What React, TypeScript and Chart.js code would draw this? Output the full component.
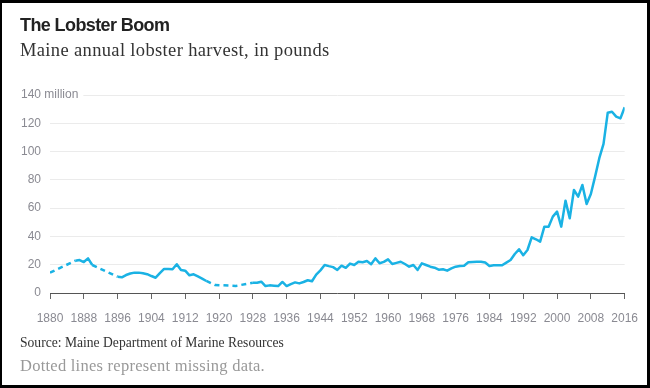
import React, { useEffect, useRef } from "react";
import { Chart, registerables } from "chart.js";

Chart.register(...registerables);

// Years with recorded data (gaps = missing data, drawn dotted)
const years = [
  1880, 1886, 1887, 1888, 1889, 1890, 1896, 1897, 1898, 1899,
  1900, 1901, 1902, 1903, 1904, 1905, 1906, 1907, 1908, 1909,
  1910, 1911, 1912, 1913, 1914, 1915, 1916, 1917, 1919, 1924,
  1928, 1929, 1930, 1931, 1932, 1933, 1934, 1935, 1936, 1937,
  1938, 1939, 1940, 1941, 1942, 1943, 1944, 1945, 1946, 1947,
  1948, 1949, 1950, 1951, 1952, 1953, 1954, 1955, 1956, 1957,
  1958, 1959, 1960, 1961, 1962, 1963, 1964, 1965, 1966, 1967,
  1968, 1969, 1970, 1971, 1972, 1973, 1974, 1975, 1976, 1977,
  1978, 1979, 1980, 1981, 1982, 1983, 1984, 1985, 1986, 1987,
  1988, 1989, 1990, 1991, 1992, 1993, 1994, 1995, 1996, 1997,
  1998, 1999, 2000, 2001, 2002, 2003, 2004, 2005, 2006, 2007,
  2008, 2009, 2010, 2011, 2012, 2013, 2014, 2015, 2016,
];

// Harvest, millions of pounds
const harvest = [
  14.4, 22.8, 23.3, 21.9, 24.5, 19.8, 11.5, 11.1, 12.7, 13.8,
  14.4, 14.4, 13.9, 13.3, 12.0, 10.8, 14.0, 17.0, 17.0, 16.8,
  20.3, 16.3, 15.8, 12.5, 13.2, 11.7, 10.2, 8.5, 5.7, 5.0,
  7.3, 7.3, 8.0, 4.9, 5.4, 5.2, 4.9, 7.8, 4.9, 6.3,
  7.5, 6.8, 7.8, 9.0, 8.3, 13.0, 16.0, 19.8, 19.0, 18.3,
  16.3, 19.3, 17.8, 20.8, 19.8, 22.1, 21.8, 22.6, 20.3, 24.5,
  21.0, 22.0, 23.8, 20.5, 21.3, 22.1, 20.5, 18.6, 19.8, 16.3,
  21.0, 19.8, 18.6, 17.9, 16.5, 16.8, 15.8, 17.4, 18.6, 19.1,
  19.3, 21.7, 22.0, 22.1, 22.1, 21.5, 19.1, 19.6, 19.6, 19.6,
  21.5, 23.3, 27.6, 30.9, 26.7, 30.4, 39.4, 38.0, 36.3, 46.9,
  46.9, 54.0, 57.5, 46.9, 65.3, 52.8, 72.8, 68.1, 76.4, 62.9,
  70.0, 82.3, 95.3, 105.4, 127.5, 128.2, 124.7, 123.5, 131.3,
];

const xMin = 1880;
const xMax = 2016;
const xStep = 8;
const yMax = 140;
const yStep = 20;
const yUnitLabel = "140 million";

const LINE = "#1ab2e4";
const TICK_FONT = "'Liberation Sans', Arial, sans-serif";
const TICK_COLOR = "#8a8a92";

export default function App() {
  const canvasRef = useRef<HTMLCanvasElement | null>(null);

  useEffect(() => {
    document.body.style.margin = "0";
    const canvas = canvasRef.current;
    if (!canvas) return;

    const topLabelPlugin = {
      id: "topLabel",
      afterDraw(chart: any) {
        const { ctx, chartArea } = chart;
        const y = chart.scales.y.getPixelForValue(yMax);
        ctx.save();
        ctx.font = `12px ${TICK_FONT}`;
        const w120 = ctx.measureText("120").width;
        const xLeft = 41 - w120;
        const w = ctx.measureText(yUnitLabel).width;
        ctx.fillStyle = "#ffffff";
        ctx.fillRect(chartArea.left - 2, y - 3, xLeft + w + 5 - (chartArea.left - 2), 6);
        ctx.fillStyle = TICK_COLOR;
        ctx.textAlign = "left";
        ctx.textBaseline = "middle";
        ctx.fillText(yUnitLabel, xLeft, y);
        ctx.restore();
      },
    };

    const chart = new Chart(canvas, {
      type: "line",
      data: {
        datasets: [
          {
            data: years.map((yr, i) => ({ x: yr, y: harvest[i] })),
            borderColor: LINE,
            borderWidth: 2.5,
            pointRadius: 0,
            tension: 0,
            fill: false,
            borderJoinStyle: "round",
            segment: {
              borderDash: (ctx: any) =>
                ctx.p1.parsed.x - ctx.p0.parsed.x > 1 ? [5, 4] : undefined,
            },
          },
        ],
      },
      options: {
        animation: false,
        responsive: false,
        maintainAspectRatio: false,
        layout: { padding: { left: 0, right: 24, top: 95, bottom: 55 } },
        plugins: {
          legend: { display: false },
          tooltip: { enabled: false },
        },
        scales: {
          x: {
            type: "linear",
            min: xMin,
            max: xMax,
            afterFit: (s: any) => {
              s.height = 40;
            },
            afterBuildTicks: (s: any) => {
              const t = [];
              for (let v = xMin; v <= xMax; v += xStep) t.push({ value: v });
              s.ticks = t;
            },
            ticks: {
              autoSkip: false,
              maxRotation: 0,
              padding: 12,
              color: TICK_COLOR,
              font: { family: TICK_FONT, size: 12 },
              callback: (v: any) => String(v),
            },
            grid: {
              drawOnChartArea: false,
              drawTicks: true,
              tickLength: 6,
              color: "#666",
            },
            border: { display: true, color: "#555", width: 1 },
          },
          y: {
            min: 0,
            max: yMax,
            afterFit: (s: any) => {
              s.width = 50;
            },
            ticks: {
              stepSize: yStep,
              padding: 9,
              color: TICK_COLOR,
              font: { family: TICK_FONT, size: 12 },
              callback: (v: any) => (v === yMax ? "" : String(v)),
            },
            grid: { color: "#ebebeb", lineWidth: 1, drawTicks: false },
            border: { display: false },
          },
        },
      },
      plugins: [topLabelPlugin],
    });

    return () => chart.destroy();
  }, []);

  const serif = "'Liberation Serif', 'Times New Roman', serif";

  return (
    <div style={{ position: "relative", width: 650, height: 388, background: "#fff", overflow: "hidden" }}>
      <canvas
        ref={canvasRef}
        width={650}
        height={388}
        style={{ position: "absolute", left: 0, top: 0, width: 650, height: 388 }}
      />
      <div
        style={{
          position: "absolute",
          left: 20,
          top: 14,
          fontFamily: "'Liberation Sans', Arial, sans-serif",
          fontWeight: 700,
          fontSize: 18,
          letterSpacing: -0.6,
          color: "#222",
          whiteSpace: "nowrap",
          lineHeight: "22px",
        }}
      >
        The Lobster Boom
      </div>
      <div
        style={{
          position: "absolute",
          left: 20,
          top: 39,
          fontFamily: serif,
          fontSize: 18.5,
          letterSpacing: 0.35,
          color: "#333",
          whiteSpace: "nowrap",
          lineHeight: "22px",
        }}
      >
        Maine annual lobster harvest, in pounds
      </div>
      <div
        style={{
          position: "absolute",
          left: 20,
          top: 335,
          fontFamily: serif,
          fontSize: 13.6,
          color: "#333",
          whiteSpace: "nowrap",
          lineHeight: "16px",
        }}
      >
        Source: Maine Department of Marine Resources
      </div>
      <div
        style={{
          position: "absolute",
          left: 20,
          top: 356,
          fontFamily: serif,
          fontSize: 16.5,
          letterSpacing: 0.25,
          color: "#999",
          whiteSpace: "nowrap",
          lineHeight: "20px",
        }}
      >
        Dotted lines represent missing data.
      </div>
      <div
        style={{
          position: "absolute",
          left: 0,
          top: 0,
          width: 650,
          height: 388,
          boxSizing: "border-box",
          borderStyle: "solid",
          borderColor: "#000",
          borderWidth: "3px 3px 3px 2px",
          pointerEvents: "none",
        }}
      />
    </div>
  );
}
